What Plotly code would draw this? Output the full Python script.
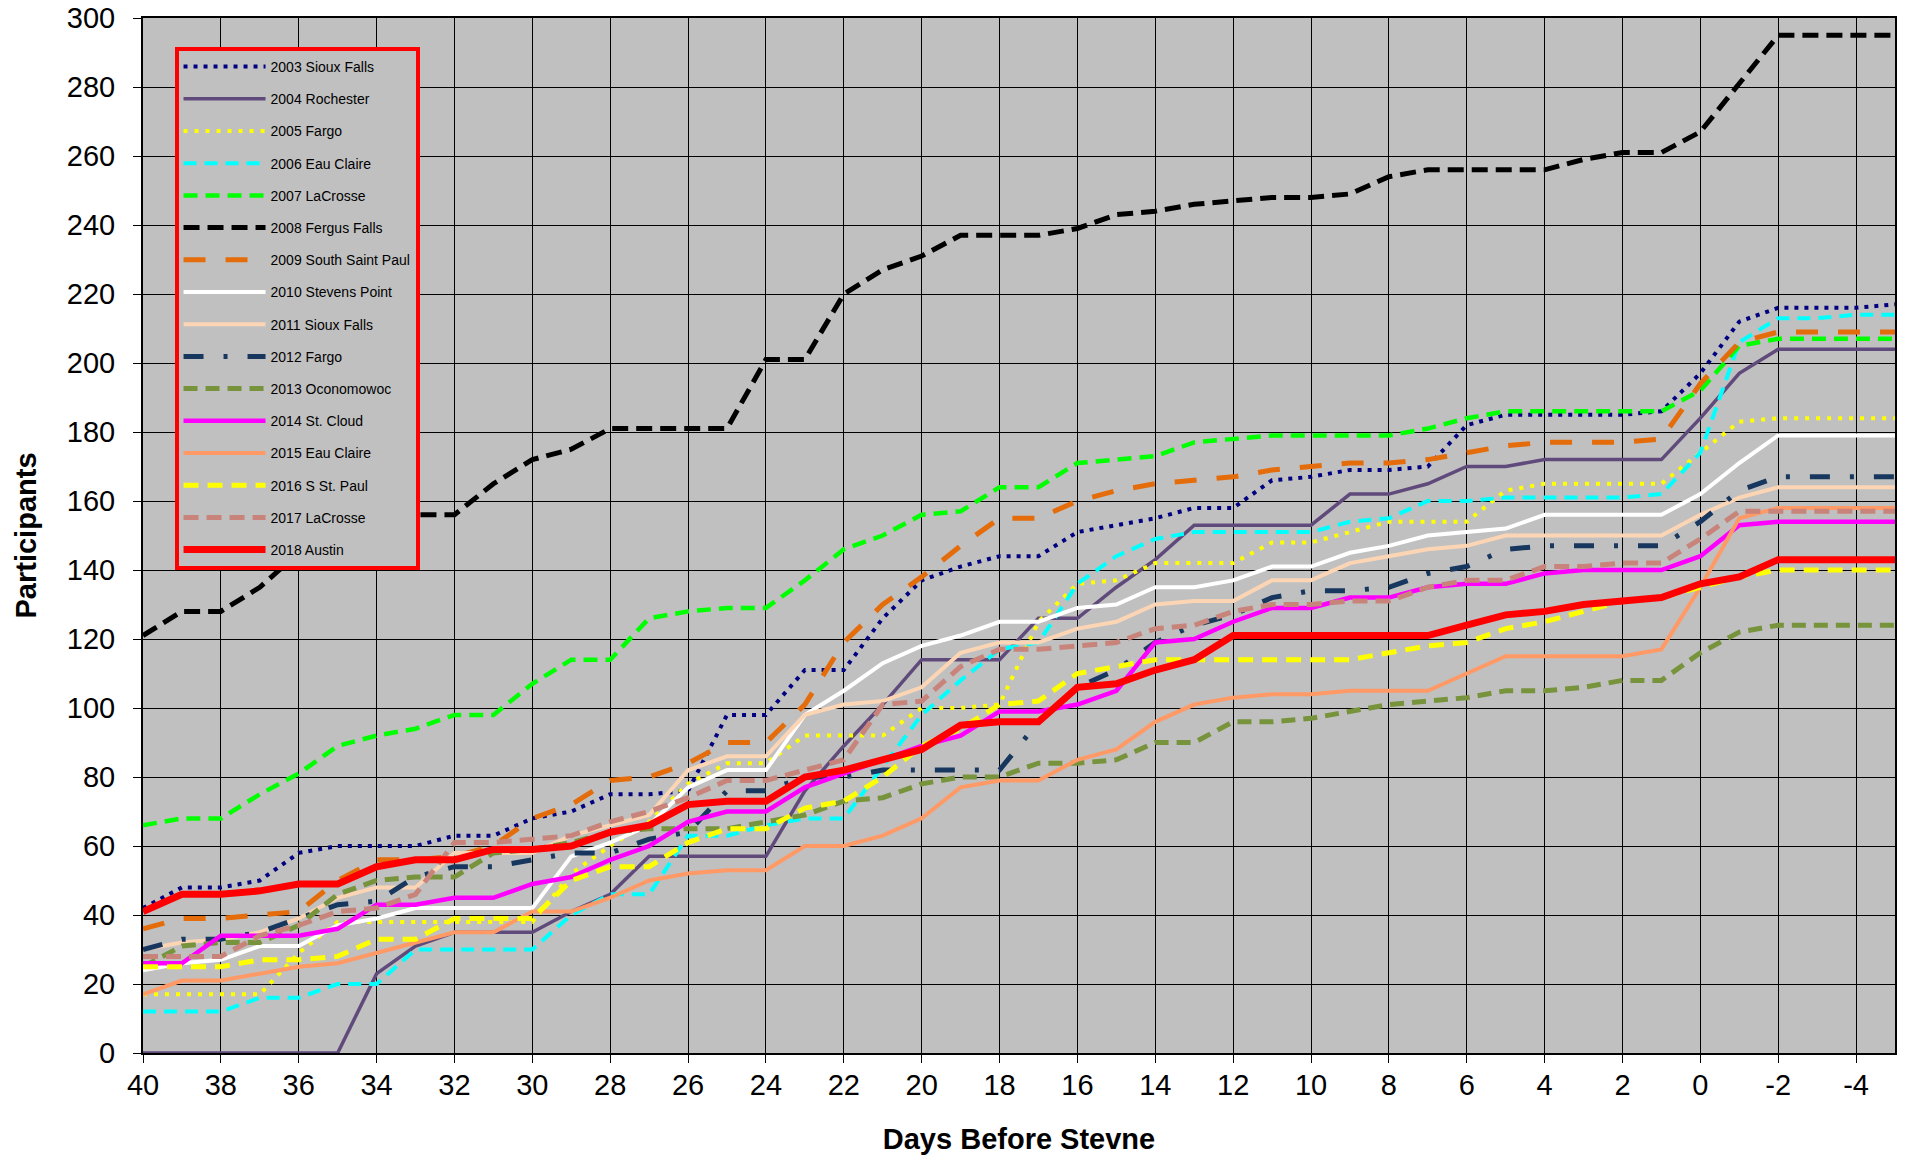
import plotly.graph_objects as go

# ---------------- data ----------------
days = [40, 39, 38, 37, 36, 35, 34, 33, 32, 31,
        30, 29, 28, 27, 26, 25, 24, 23, 22, 21,
        20, 19, 18, 17, 16, 15, 14, 13, 12, 11,
        10, 9, 8, 7, 6, 5, 4, 3, 2, 1,
        0, -1, -2, -3, -4, -5]

x_tick_values = [40, 38, 36, 34, 32, 30, 28, 26, 24, 22, 20, 18, 16, 14, 12, 10, 8, 6, 4, 2, 0, -2, -4]
x_tick_labels = ["40", "38", "36", "34", "32", "30", "28", "26", "24", "22", "20", "18",
                 "16", "14", "12", "10", "8", "6", "4", "2", "0", "-2", "-4"]

sioux_falls_2003 = [42, 48, 48, 50, 58, 60, 60, 60, 63, 63,
                    68, 70, 75, 75, 76, 98, 98, 111, 111, 126,
                    137, 141, 144, 144, 151, 153, 155, 158, 158, 166,
                    167, 169, 169, 170, 182, 185, 185, 185, 185, 186,
                    197, 212, 216, 216, 216, 217]
rochester_2004 = [0, 0, 0, 0, 0, 0, 23, 31, 35, 35,
                  35, 41, 46, 57, 57, 57, 57, 76, 89, 101,
                  114, 114, 114, 126, 126, 135, 143, 153, 153, 153,
                  153, 162, 162, 165, 170, 170, 172, 172, 172, 172,
                  184, 197, 204, 204, 204, 204]
fargo_2005 = [17, 17, 17, 17, 29, 38, 38, 38, 38, 38,
              38, 52, 60, 67, 78, 84, 84, 92, 92, 92,
              100, 100, 101, 125, 136, 137, 142, 142, 142, 148,
              148, 151, 154, 154, 154, 163, 165, 165, 165, 165,
              174, 183, 184, 184, 184, 184]
eau_claire_2006 = [12, 12, 12, 16, 16, 20, 20, 30, 30, 30,
                   30, 40, 46, 46, 63, 63, 66, 68, 68, 83,
                   98, 108, 117, 119, 136, 144, 149, 151, 151, 151,
                   151, 154, 155, 160, 160, 161, 161, 161, 161, 162,
                   174, 206, 213, 213, 214, 214]
lacrosse_2007 = [66, 68, 68, 75, 81, 89, 92, 94, 98, 98,
                 107, 114, 114, 126, 128, 129, 129, 137, 146, 150,
                 156, 157, 164, 164, 171, 172, 173, 177, 178, 179,
                 179, 179, 179, 181, 184, 186, 186, 186, 186, 186,
                 192, 205, 207, 207, 207, 207]
fergus_falls_2008 = [121, 128, 128, 135, 145, 151, 155, 156, 156, 165,
                     172, 175, 181, 181, 181, 181, 201, 201, 220, 227,
                     231, 237, 237, 237, 239, 243, 244, 246, 247, 248,
                     248, 249, 254, 256, 256, 256, 256, 259, 261, 261,
                     267, 281, 295, 295, 295, 295]
south_saint_paul_2009 = [36, 39, 39, 40, 41, 50, 56, 56, 57, 60,
                         68, 72, 79, 80, 84, 90, 90, 101, 119, 130,
                         138, 147, 155, 155, 160, 163, 165, 166, 167, 169,
                         170, 171, 171, 172, 174, 176, 177, 177, 177, 178,
                         194, 206, 209, 209, 209, 209]
stevens_point_2010 = [24, 26, 27, 31, 31, 37, 39, 42, 42, 42,
                      42, 57, 61, 66, 77, 82, 82, 98, 105, 113,
                      118, 121, 125, 125, 129, 130, 135, 135, 137, 141,
                      141, 145, 147, 150, 151, 152, 156, 156, 156, 156,
                      162, 171, 179, 179, 179, 179]
sioux_falls_2011 = [30, 32, 33, 35, 39, 45, 48, 48, 58, 58,
                    58, 63, 66, 69, 82, 86, 86, 98, 101, 102,
                    106, 116, 119, 119, 123, 125, 130, 131, 131, 137,
                    137, 142, 144, 146, 147, 150, 150, 150, 150, 150,
                    156, 161, 164, 164, 164, 164]
fargo_2012 = [30, 33, 33, 35, 39, 43, 44, 51, 54, 54,
              56, 58, 58, 62, 64, 76, 76, 80, 80, 82,
              82, 82, 82, 96, 106, 111, 119, 124, 127, 132,
              134, 134, 135, 139, 141, 146, 147, 147, 147, 147,
              154, 163, 167, 167, 167, 167]
oconomowoc_2013 = [25, 31, 32, 32, 37, 46, 50, 51, 51, 58,
                   59, 61, 64, 65, 65, 65, 67, 69, 73, 74,
                   78, 80, 80, 84, 84, 85, 90, 90, 96, 96,
                   97, 99, 101, 102, 103, 105, 105, 106, 108, 108,
                   116, 122, 124, 124, 124, 124]
st_cloud_2014 = [26, 26, 34, 34, 34, 36, 43, 43, 45, 45,
                 49, 51, 56, 60, 67, 70, 70, 77, 81, 85,
                 89, 92, 99, 99, 101, 105, 119, 120, 125, 129,
                 129, 132, 132, 135, 136, 136, 139, 140, 140, 140,
                 144, 153, 154, 154, 154, 154]
eau_claire_2015 = [17, 21, 21, 23, 25, 26, 29, 32, 35, 35,
                   41, 41, 45, 50, 52, 53, 53, 60, 60, 63,
                   68, 77, 79, 79, 85, 88, 96, 101, 103, 104,
                   104, 105, 105, 105, 110, 115, 115, 115, 115, 117,
                   135, 155, 158, 158, 158, 158]
s_st_paul_2016 = [25, 25, 25, 27, 27, 28, 33, 33, 39, 39,
                  39, 50, 54, 54, 61, 65, 65, 71, 73, 80,
                  89, 94, 101, 102, 110, 112, 114, 114, 114, 114,
                  114, 114, 116, 118, 119, 123, 125, 128, 131, 132,
                  135, 138, 140, 140, 140, 140]
lacrosse_2017 = [28, 28, 28, 34, 37, 41, 42, 46, 61, 61,
                 62, 63, 67, 70, 74, 79, 79, 82, 85, 101,
                 102, 112, 117, 117, 118, 119, 123, 124, 128, 130,
                 130, 131, 131, 135, 137, 137, 141, 141, 142, 142,
                 149, 157, 157, 157, 157, 157]
austin_2018 = [41, 46, 46, 47, 49, 49, 54, 56, 56, 59,
               59, 60, 64, 66, 72, 73, 73, 80, 82, 85,
               88, 95, 96, 96, 106, 107, 111, 114, 121, 121,
               121, 121, 121, 121, 124, 127, 128, 130, 131, 132,
               136, 138, 143, 143, 143, 143]

series_names = ["2003 Sioux Falls", "2004 Rochester", "2005 Fargo", "2006 Eau Claire",
                "2007 LaCrosse", "2008 Fergus Falls", "2009 South Saint Paul",
                "2010 Stevens Point", "2011 Sioux Falls", "2012 Fargo",
                "2013 Oconomowoc", "2014 St. Cloud", "2015 Eau Claire",
                "2016 S St. Paul", "2017 LaCrosse", "2018 Austin"]
series_values = [sioux_falls_2003, rochester_2004, fargo_2005, eau_claire_2006,
                 lacrosse_2007, fergus_falls_2008, south_saint_paul_2009,
                 stevens_point_2010, sioux_falls_2011, fargo_2012,
                 oconomowoc_2013, st_cloud_2014, eau_claire_2015,
                 s_st_paul_2016, lacrosse_2017, austin_2018]

# ---------------- styles ----------------
line_styles = [
    dict(color="#000080", width=4, dash="4px,6px"),
    dict(color="#604A7B", width=3.5, dash="solid"),
    dict(color="#FFFF00", width=4, dash="4px,7px"),
    dict(color="#00FFFF", width=4, dash="13px,8px"),
    dict(color="#00FF00", width=4.5, dash="14px,8px"),
    dict(color="#000000", width=5, dash="16px,8px"),
    dict(color="#E46C0A", width=5, dash="22px,20px"),
    dict(color="#FFFFFF", width=4, dash="solid"),
    dict(color="#FCD5B5", width=4, dash="solid"),
    dict(color="#17375E", width=5, dash="20px,20px,4px,20px"),
    dict(color="#77933C", width=5, dash="14px,8px"),
    dict(color="#FF00FF", width=4.5, dash="solid"),
    dict(color="#FF9966", width=4, dash="solid"),
    dict(color="#FFFF00", width=5, dash="15px,9px"),
    dict(color="#C8847A", width=5, dash="15px,8px"),
    dict(color="#FF0000", width=7, dash="solid"),
]

FONT = "Liberation Sans, Arial, sans-serif"

fig = go.Figure()
for name, vals, st in zip(series_names, series_values, line_styles):
    fig.add_trace(go.Scatter(
        x=days, y=vals, name=name, mode="lines",
        line=dict(color=st["color"], width=st["width"], dash=st["dash"]),
        legendgroup=name,
    ))

fig.update_layout(
    width=1905, height=1160,
    margin=dict(l=143, r=10, t=18, b=107, autoexpand=False),
    paper_bgcolor="white",
    plot_bgcolor="#C0C0C0",
    font=dict(family=FONT, color="black"),
    showlegend=True,
    legend=dict(
        x=0.018, y=0.972, xanchor="left", yanchor="top",
        bgcolor="#C0C0C0", bordercolor="#FF0000", borderwidth=4,
        font=dict(family=FONT, size=14, color="black"),
        tracegroupgap=11,
        itemwidth=82,
    ),
)

fig.update_xaxes(
    range=[40, -5],
    tickmode="array", tickvals=x_tick_values, ticktext=x_tick_labels,
    ticks="outside", ticklen=8, tickwidth=1, tickcolor="black",
    tickfont=dict(family=FONT, size=29, color="black"),
    ticklabelstandoff=-3,
    showgrid=True, gridcolor="black", gridwidth=1,
    zeroline=False,
    showline=True, linecolor="black", linewidth=2, mirror=True,
    title=dict(text="Days Before Stevne", standoff=29,
               font=dict(family=FONT, size=29, color="black", weight="bold")),
    automargin=False,
)
fig.update_yaxes(
    range=[0, 300], tick0=0, dtick=20,
    ticks="outside", ticklen=8, tickwidth=1, tickcolor="black",
    tickfont=dict(family=FONT, size=29, color="black"),
    ticklabelstandoff=12,
    showgrid=True, gridcolor="black", gridwidth=1,
    zeroline=False,
    showline=True, linecolor="black", linewidth=2, mirror=True,
    title=dict(text="Participants", standoff=22,
               font=dict(family=FONT, size=29, color="black", weight="bold")),
    automargin=False,
)

fig.write_html("out.html",
               config={"displayModeBar": False},
               post_script="document.body.style.margin='0px';document.body.style.overflow='hidden';")
